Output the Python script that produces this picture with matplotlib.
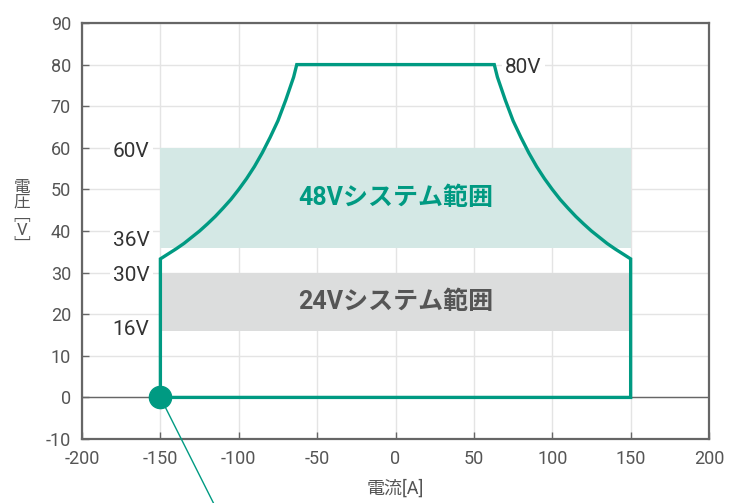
import matplotlib
matplotlib.use('Agg')
import matplotlib.pyplot as plt

plt.rcParams['font.family'] = ['Roboto', 'Noto Sans CJK JP', 'DejaVu Sans']
plt.rcParams['axes.unicode_minus'] = False

# operating limit (right half, mirrored for negative current)
curve_i = [63, 65, 70, 75, 80, 85, 90, 95, 100, 105, 110, 115, 120, 125, 130, 135, 140, 145, 150]
curve_v = [80, 77, 71.5, 66.5, 62.5, 58.8, 55.5, 52.6, 50, 47.6, 45.5, 43.5, 41.7, 40, 38.5, 37, 35.7, 34.5, 33.3]
i_limit = 150

# system bands: (low V, high V, label)
band_48 = (36, 60, '48Vシステム範囲')
band_24 = (16, 30, '24Vシステム範囲')

level_labels = ['60V', '36V', '30V', '16V']
level_values = [60, 36, 30, 16]

teal = '#009a82'
grey_txt = '#555555'

fig = plt.figure(figsize=(7.29, 5.03), dpi=100)
ax = fig.add_axes([0.1125, 0.1272, 0.8601, 0.8271])

# bands
ax.fill_between([-i_limit, i_limit], band_48[0], band_48[1], color='#d4e8e5', zorder=1, lw=0)
ax.fill_between([-i_limit, i_limit], band_24[0], band_24[1], color='#dcdddd', zorder=1, lw=0)
ax.text(0, (band_48[0] + band_48[1]) / 2, band_48[2], color=teal, fontsize=18, fontweight='bold',
        ha='center', va='center', zorder=3)
ax.text(0, (band_24[0] + band_24[1]) / 2, band_24[2], color='#555555', fontsize=18, fontweight='bold',
        ha='center', va='center', zorder=3)

# outline
xs = [-i_limit, -i_limit] + [-c for c in curve_i[::-1]] + curve_i + [i_limit, -i_limit]
ys = [0, curve_v[-1]] + curve_v[::-1] + curve_v + [0, 0]
ax.axhline(0, color='#666666', lw=1, zorder=2)
ax.plot(xs, ys, color=teal, lw=2.4, zorder=4, solid_joinstyle='miter')

# marker and leader line
ax.plot([-150, -110], [0, -30], color=teal, lw=1, clip_on=False, zorder=4)
ax.plot([-150], [0], 'o', color=teal, ms=16, clip_on=False, zorder=5)

# level labels
label_y = {'60V': 59, '36V': 37.8, '30V': 29.4, '16V': 16.3}
for lab, v in zip(level_labels, level_values):
    ax.text(-157, label_y[lab], lab, ha='right', va='center', fontsize=15, color='#333333',
            bbox=dict(boxstyle='square,pad=0.15', fc='white', ec='none'), zorder=3)
ax.text(70, 79.4, '80V', ha='left', va='center', fontsize=15, color='#333333',
        bbox=dict(boxstyle='square,pad=0.15', fc='white', ec='none'), zorder=3)

ax.set_xlim(-200, 200)
ax.set_ylim(-10, 90)
ax.set_xticks(range(-200, 201, 50))
ax.set_yticks(range(-10, 91, 10))
ax.grid(True, color='#e4e4e4', lw=1, zorder=0)
ax.set_axisbelow(True)
for s in ax.spines.values():
    s.set_color('#666666')
    s.set_linewidth(1.6)
ax.tick_params(direction='in', length=5, width=1, color='#666666', labelcolor=grey_txt,
               labelsize=13, pad=8)

ax.set_xlabel('電流[A]', fontsize=13, color=grey_txt, labelpad=8)
fig.text(0.03, 0.57, '電\n圧\n﹇\nV\n﹈', fontsize=12, color=grey_txt, ha='center', va='center',
         linespacing=0.95)

fig.savefig('out.png', dpi=100)
